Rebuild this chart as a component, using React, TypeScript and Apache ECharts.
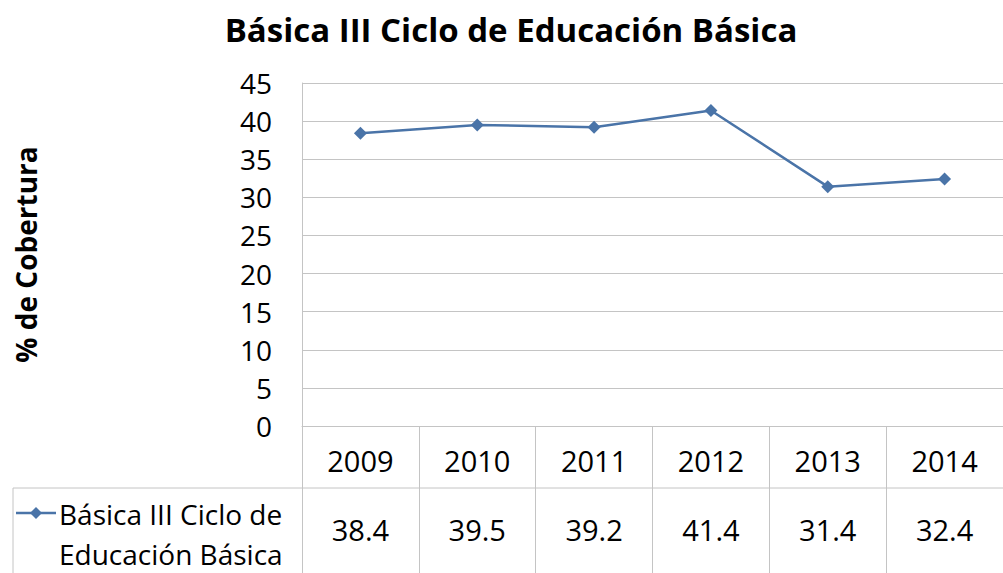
import React, { useEffect, useRef } from "react";
import * as echarts from "echarts";

const chartTitle = "Básica III Ciclo de Educación Básica";
const yAxisTitle = "% de Cobertura";
const seriesName = "Básica III Ciclo de Educación Básica";
const legendLines = ["Básica III Ciclo de", "Educación Básica"];
const years = ["2009", "2010", "2011", "2012", "2013", "2014"];
const coverage = [38.4, 39.5, 39.2, 41.4, 31.4, 32.4];
const yMin = 0;
const yMax = 45;
const yStep = 5;

const FONT = "'Open Sans', 'Noto Sans', sans-serif";
const LINE_COLOR = "#4a74a8";
const GRID_COLOR = "#c4c4c4";

export default function App() {
  const ref = useRef<HTMLDivElement>(null);
  useEffect(() => {
    if (!ref.current) return;
    const chart = echarts.init(ref.current, null, { renderer: "svg" });
    chart.setOption({
      animation: false,
      backgroundColor: "#ffffff",
      title: {
        text: chartTitle,
        left: 506,
        top: 8,
        textAlign: "center",
        textStyle: { fontFamily: FONT, fontWeight: "bold", fontSize: 33, color: "#000" },
      },
      grid: { left: 302, top: 83, width: 702, height: 343 },
      xAxis: [
        {
          type: "category",
          data: years,
          boundaryGap: true,
          position: "bottom",
          axisLine: { show: true, lineStyle: { color: GRID_COLOR, width: 1 } },
          axisTick: { show: true, interval: 0, length: 147, lineStyle: { color: GRID_COLOR, width: 1 } },
          axisLabel: { interval: 0, margin: 20, fontFamily: FONT, fontSize: 29, color: "#000" },
        },
        {
          type: "category",
          data: years,
          boundaryGap: true,
          position: "bottom",
          offset: 0,
          axisLine: { show: false },
          axisTick: { show: false },
          axisLabel: {
            interval: 0,
            margin: 89,
            fontFamily: FONT,
            fontSize: 29,
            color: "#000",
            formatter: (_v: string, i: number) => coverage[i].toFixed(1),
          },
        },
      ],
      yAxis: {
        type: "value",
        min: yMin,
        max: yMax,
        interval: yStep,
        name: yAxisTitle,
        nameLocation: "middle",
        nameGap: 262,
        nameRotate: 90,
        nameTextStyle: { fontFamily: FONT, fontWeight: "bold", fontSize: 28, color: "#000" },
        axisLine: { show: true, lineStyle: { color: GRID_COLOR, width: 1 } },
        axisTick: { show: false },
        axisLabel: { margin: 30, fontFamily: FONT, fontSize: 28, color: "#000" },
        splitLine: { show: true, lineStyle: { color: GRID_COLOR, width: 1 } },
      },
      series: [
        {
          name: seriesName,
          type: "line",
          data: coverage,
          xAxisIndex: 0,
          symbol: "diamond",
          symbolSize: 13,
          itemStyle: { color: LINE_COLOR },
          lineStyle: { color: LINE_COLOR, width: 2.5 },
        },
      ],
      graphic: [
        { type: "line", shape: { x1: 13, y1: 488, x2: 1003, y2: 488 }, style: { stroke: GRID_COLOR, lineWidth: 1 } },
        { type: "line", shape: { x1: 13, y1: 488, x2: 13, y2: 573 }, style: { stroke: GRID_COLOR, lineWidth: 1 } },
        { type: "line", shape: { x1: 16, y1: 513, x2: 56, y2: 513 }, style: { stroke: LINE_COLOR, lineWidth: 2.5 } },
        { type: "polygon", shape: { points: [[36, 507], [42, 513], [36, 519], [30, 513]] }, style: { fill: LINE_COLOR } },
        {
          type: "text",
          x: 59,
          y: 514,
          style: { text: legendLines[0], fontFamily: FONT, fontSize: 28, fill: "#000", textVerticalAlign: "middle" },
        },
        {
          type: "text",
          x: 59,
          y: 554,
          style: { text: legendLines[1], fontFamily: FONT, fontSize: 28, fill: "#000", textVerticalAlign: "middle" },
        },
      ],
    });
    return () => chart.dispose();
  }, []);
  return <div ref={ref} style={{ position: "fixed", left: 0, top: 0, width: 1003, height: 573 }} />;
}
